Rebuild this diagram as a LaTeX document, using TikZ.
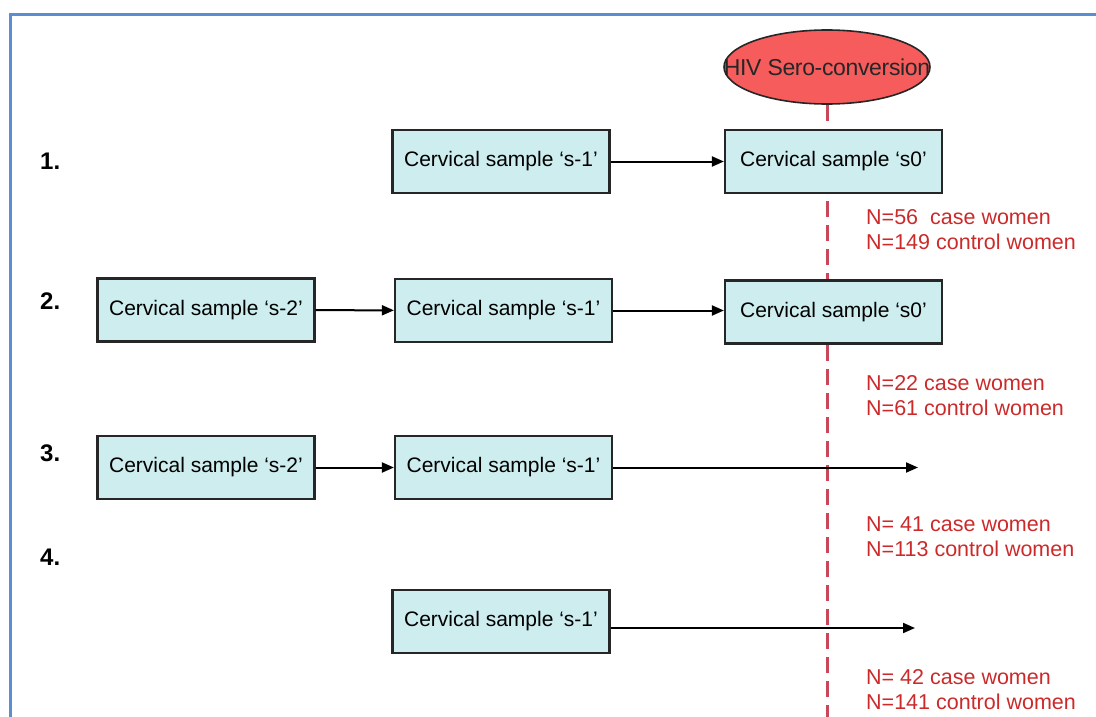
\documentclass[tikz,border=0pt]{standalone}
\usepackage{fontspec}
\setmainfont{Liberation Sans}
\usetikzlibrary{shapes.geometric,arrows.meta}
\definecolor{boxfill}{HTML}{CDEDEF}
\definecolor{ellfill}{HTML}{F65C5C}
\definecolor{dashred}{HTML}{C8485A}
\definecolor{txtred}{HTML}{CC2A2A}
\definecolor{frameblue}{HTML}{5B8DD3}
\tikzset{
  x=1pt,y=-1pt,
  sample/.style={draw=black!85,line width=2.2pt,fill=boxfill,minimum width=217pt,minimum height=63pt,inner sep=0pt,font=\fontsize{21}{24}\selectfont},
  link/.style={line width=2pt,-{Triangle[length=12pt,width=10pt]}},
  rowlab/.style={font=\fontsize{24}{28}\selectfont\bfseries,anchor=base west,inner sep=0pt},
  ntext/.style={font=\fontsize{21.5}{24}\selectfont,text=txtred,anchor=base west,inner sep=0pt},
}
\begin{document}
\begin{tikzpicture}
\useasboundingbox (0,0) rectangle (1096,717);
% frame
\draw[frameblue,line width=3pt] (1096,15) -- (10,15) -- (10,717);
% ellipse and dashed line
\node[ellipse,draw=black!85,line width=1.6pt,fill=ellfill,minimum width=206pt,minimum height=74pt,inner sep=0pt,
  label={[font=\fontsize{23}{26}\selectfont\addfontfeatures{LetterSpace=-1.5},text=black!85,inner sep=0pt]center:HIV Sero-conversion}] (hiv) at (827,67) {};
\coordinate (dend) at (827,717);
\draw[dashred,line width=3pt,dash pattern=on 16pt off 8pt] (hiv.south) -- (dend);
% row labels
\node[rowlab] (l1) at (40,169) {1.};
\node[rowlab] (l2) at (40,309) {2.};
\node[rowlab] (l3) at (40,461) {3.};
\node[rowlab] (l4) at (40,565) {4.};
% row 1
\node[sample] (a1) at (501,161.5) {Cervical sample ‘s-1’};
\node[sample] (a0) at (833.5,161.5) {Cervical sample ‘s0’};
\draw[link] (a1) -- (a0);
% row 2
\node[sample] (b2) at (206,310) {Cervical sample ‘s-2’};
\node[sample] (b1) at (503.5,310.5) {Cervical sample ‘s-1’};
\node[sample] (b0) at (833.5,312) {Cervical sample ‘s0’};
\draw[link] (b2) -- (b1);
\draw[link] (b1) -- (b1 -| b0.west);
% row 3
\node[sample] (c2) at (206,467.5) {Cervical sample ‘s-2’};
\node[sample] (c1) at (503.5,467.5) {Cervical sample ‘s-1’};
\coordinate (c3end) at (918,467.5);
\draw[link] (c2) -- (c1);
\draw[link] (c1) -- (c3end);
% row 4
\node[sample] (d1) at (501,621.5) {Cervical sample ‘s-1’};
\coordinate (d4end) at (915,628);
\draw[link] (d1.east |- d4end) -- (d4end);
% counts
\node[ntext] (n1a) at (866,224) {N=56\ \ case women};
\node[ntext] (n1b) at (866,249) {N=149 control women};
\node[ntext] (n2a) at (866,390) {N=22 case women};
\node[ntext] (n2b) at (866,415) {N=61 control women};
\node[ntext] (n3a) at (866,531) {N= 41 case women};
\node[ntext] (n3b) at (866,556) {N=113 control women};
\node[ntext] (n4a) at (866,684) {N= 42 case women};
\node[ntext] (n4b) at (866,709) {N=141 control women};
\end{tikzpicture}
\end{document}
